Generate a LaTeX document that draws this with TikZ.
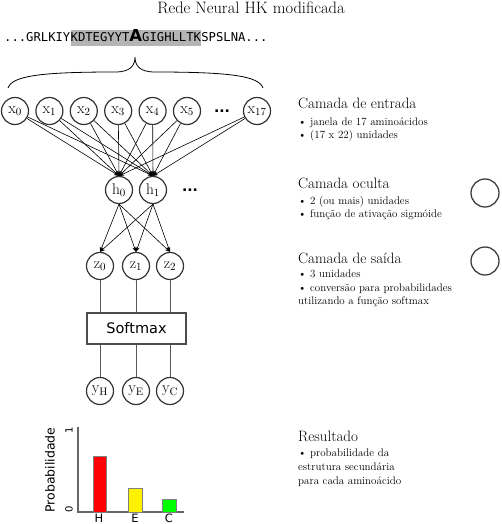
\documentclass[tikz,border=0pt]{standalone}
\usepackage{fontspec}
\newfontfamily\dvs{DejaVu Sans}
\newfontfamily\dvsm{DejaVu Sans Mono}
\usetikzlibrary{arrows.meta}
\definecolor{seqgray}{HTML}{B4B4B4}
\begin{document}
\begin{tikzpicture}[x=1pt,y=-1pt,
  neuron/.style={circle,draw=black!80,line width=1.2pt,minimum size=27pt,inner sep=0pt,font=\fontsize{15.5}{15.5}\selectfont},
  conn/.style={line width=0.6pt,-{Stealth[length=5pt,width=4pt]}},
  plainline/.style={draw=black!65,line width=0.9pt},
  head/.style={anchor=base west,inner sep=0pt,font=\fontsize{15}{15}\selectfont},
  bul/.style={anchor=base west,inner sep=0pt,font=\fontsize{11}{11}\selectfont},
  seq/.style={anchor=base west,inner sep=0pt,font=\dvsm\fontsize{12.2}{12.2}\selectfont},
  dotsn/.style={inner sep=0pt,font=\dvs\bfseries\fontsize{14}{14}\selectfont},
  emptyc/.style={circle,draw=black!75,line width=1.3pt,minimum size=28pt,inner sep=0pt},
  bar/.style={draw=black!50,line width=0.6pt},
  chartlbl/.style={anchor=base,inner sep=0pt,font=\dvs\fontsize{11.5}{11.5}\selectfont},
]
\useasboundingbox (0,0) rectangle (502,524);

% title
\node[anchor=base,inner sep=0pt,font=\fontsize{16.5}{16.5}\selectfont] (title) at (251,14) {Rede Neural HK modificada};

% sequence
\node[seq] (s1) at (4,42) {...GRLKIY};
\node[seq,fill=seqgray,text height=12pt,text depth=4pt] (s2) at (s1.base east) {KDTEGYYT{\dvs\bfseries\fontsize{16.5}{16.5}\selectfont A}GIGHLLTK};
\node[seq] (s3) at (s2.base east) {SPSLNA...};

% brace
\coordinate (bl) at (8,88);
\coordinate (bt) at (135,57);
\coordinate (br) at (263,88);
\draw[line width=0.8pt] (bl) .. controls (12,76) and (40,72) .. (115,72)
   .. controls (130,72) and (135,66) .. (bt)
   .. controls (135,66) and (140,72) .. (155,72)
   .. controls (230,72) and (259,76) .. (br);

% input layer
\foreach \i/\xx in {0/15,1/49.4,2/83.8,3/118.2,4/152.6,5/187}
  \node[neuron] (x\i) at (\xx,111) {$\mathrm{x}_{\i}$};
\node[neuron] (x17) at (257,111) {$\mathrm{x}_{17}$};
\node[dotsn] (xdots) at (222,111) {...};

% hidden layer
\node[neuron] (h0) at (119,190) {$\mathrm{h}_{0}$};
\node[neuron] (h1) at (153,190) {$\mathrm{h}_{1}$};
\node[dotsn] (hdots) at (190,190) {...};

\foreach \i in {0,1,2,3,4,5,17} {
  \draw[conn] (x\i) -- (h0.north);
  \draw[conn] (x\i) -- (h1.north);
}

% output layer
\node[neuron] (z0) at (100,266) {$\mathrm{z}_{0}$};
\node[neuron] (z1) at (136,266) {$\mathrm{z}_{1}$};
\node[neuron] (z2) at (170,266) {$\mathrm{z}_{2}$};

\foreach \h in {h0,h1}
  \foreach \z in {z0,z1,z2}
    \draw[conn] (\h.south) -- (\z.north);

% softmax
\node[draw=black!70,line width=1.2pt,minimum width=99pt,minimum height=31pt,inner sep=0pt,font=\dvs\fontsize{14.5}{14.5}\selectfont] (sm) at (136.5,328.5) {Softmax};

\node[neuron] (yH) at (100,391) {$\mathrm{y}_{\mathrm{H}}$};
\node[neuron] (yE) at (136,391) {$\mathrm{y}_{\mathrm{E}}$};
\node[neuron] (yC) at (170,391) {$\mathrm{y}_{\mathrm{C}}$};

\foreach \z in {z0,z1,z2}
  \draw[plainline] (\z) -- (\z |- sm.north);
\foreach \y in {yH,yE,yC}
  \draw[plainline] (\y |- sm.south) -- (\y);

% bar chart
\draw[draw=black!60,line width=1.2pt] (78,427) -- (78,512) -- (184,512);
\draw[bar,fill=red] (93,456) rectangle (106,512);
\draw[bar,fill=yellow] (128,488) rectangle (142,512);
\draw[bar,fill=green] (162,499) rectangle (176,512);
\node[inner sep=0pt,rotate=90,font=\dvs\fontsize{10}{10}\selectfont] (one) at (69,430) {1};
\node[inner sep=0pt,rotate=90,font=\dvs\fontsize{10}{10}\selectfont] (zero) at (69,509) {0};
\node[inner sep=0pt,rotate=90,font=\dvs\fontsize{12.5}{12.5}\selectfont] (prob) at (50,470) {Probabilidade};
\node[chartlbl] (lH) at (99,522) {H};
\node[chartlbl] (lE) at (135,522) {E};
\node[chartlbl] (lC) at (169,522) {C};

% right column
\node[head] (t1) at (298,109) {Camada de entrada};
\node[bul] (t1a) at (298,125) {\textbullet\ janela de 17 aminoácidos};
\node[bul] (t1b) at (298,138) {\textbullet\ (17 x 22) unidades};

\node[head] (t2) at (298,188) {Camada oculta};
\node[bul] (t2a) at (298,204) {\textbullet\ 2 (ou mais) unidades};
\node[bul] (t2b) at (298,217) {\textbullet\ função de ativação sigmóide};

\node[head] (t3) at (298,263) {Camada de saída};
\node[bul] (t3a) at (298,277) {\textbullet\ 3 unidades};
\node[bul] (t3b) at (298,291) {\textbullet\ conversão para probabilidades};
\node[bul] (t3c) at (298,304) {utilizando a função softmax};

\node[head] (t4) at (298,441) {Resultado};
\node[bul] (t4a) at (298,456) {\textbullet\ probabilidade da};
\node[bul] (t4b) at (298,470) {estrutura secundária};
\node[bul] (t4c) at (298,484) {para cada aminoácido};

\node[emptyc] (c1) at (485,193) {};
\node[emptyc] (c2) at (485,261) {};
\end{tikzpicture}
\end{document}
